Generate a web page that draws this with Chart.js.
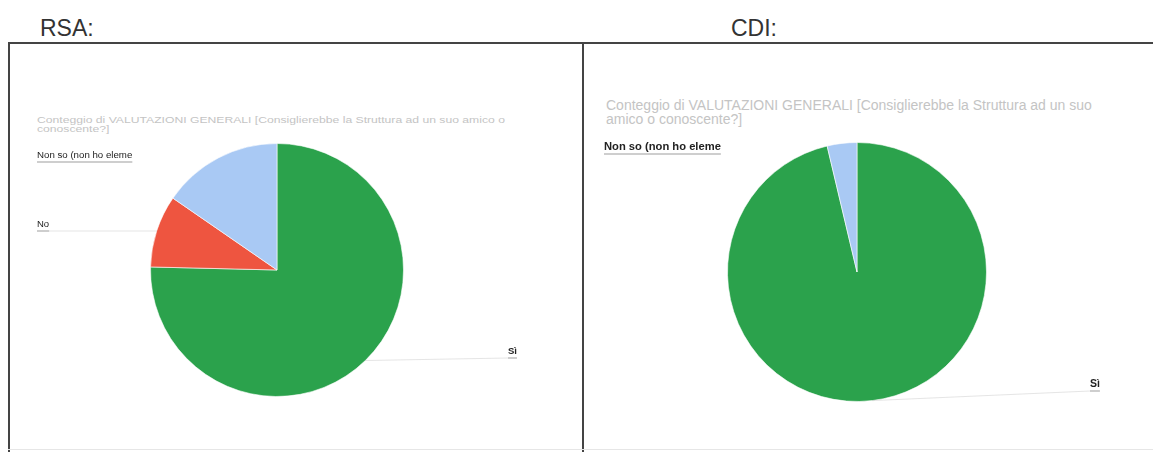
<!DOCTYPE html>
<html>
<head>
<meta charset="utf-8">
<script src="https://cdn.jsdelivr.net/npm/chart.js@4.4.0/dist/chart.umd.min.js"></script>
<style>
  body { margin: 0; background: #fff; font-family: "Liberation Sans", Arial, sans-serif; }
  #page { position: relative; width: 1153px; height: 452px; overflow: hidden; }
  .head { position: absolute; top: 15px; font-size: 23px; color: #333; }
  .title { position: absolute; color: #c4c4c4; white-space: nowrap; transform-origin: left top; }
  .panel { position: absolute; top: 44px; height: 404px; }
  .line { position: absolute; background: #444; }
</style>
</head>
<body>
<div id="page">
  <div class="head" style="left:40px">RSA:</div>
  <div class="head" style="left:731px">CDI:</div>
  <div class="line" style="left:8px; top:42px; width:1145px; height:2px"></div>
  <div class="line" style="left:8px; top:42px; width:2px; height:410px"></div>
  <div class="line" style="left:582px; top:42px; width:2px; height:410px"></div>
  <div class="line" style="left:8px; top:449px; width:1145px; height:1px; background:#e6e6e6"></div>

  <div class="title" style="left:37px; top:115px; font-size:9.5px; line-height:9px; transform:scaleX(1.28)">Conteggio di VALUTAZIONI GENERALI [Consiglierebbe la Struttura ad un suo amico o<br>conoscente?]</div>
  <div class="title" style="left:606px; top:98px; font-size:14px; line-height:14px">Conteggio di VALUTAZIONI GENERALI [Consiglierebbe la Struttura ad un suo<br>amico o conoscente?]</div>

  <div class="panel" style="left:10px; width:572px"><canvas id="rsaChart"></canvas></div>
  <div class="panel" style="left:584px; width:569px"><canvas id="cdiChart"></canvas></div>
</div>

<script>
const rsaLabels = ['Sì', 'No', 'Non so (non ho elementi per giudicare)'];
const rsaValues = [49, 6, 10];
const rsaColors = ['#2ba24c', '#ee5540', '#a9c9f4'];

const cdiLabels = ['Sì', 'Non so (non ho elementi per giudicare)'];
const cdiValues = [26, 1];
const cdiColors = ['#2ba24c', '#a9c9f4'];

// google-sheets style side labels with leader lines to the slice middle
const sideLabels = {
    id: 'sideLabels',
    afterDatasetsDraw(chart, args, opts) {
        const ctx = chart.ctx;
        const arcs = chart.getDatasetMeta(0).data;
        ctx.save();
        arcs.forEach((arc, i) => {
            const pos = opts.positions[i];
            if (!pos) return;
            const mid = (arc.startAngle + arc.endAngle) / 2;
            const px = arc.x + Math.cos(mid) * arc.outerRadius;
            const py = arc.y + Math.sin(mid) * arc.outerRadius;
            let text = chart.data.labels[i];
            if (text.length > pos.max) text = text.slice(0, pos.max);
            ctx.font = (pos.bold ? 'bold ' : '') + pos.size + 'px "Liberation Sans", Arial, sans-serif';
            ctx.fillStyle = '#222';
            ctx.textBaseline = 'alphabetic';
            ctx.fillText(text, pos.x, pos.y);
            const w = ctx.measureText(text).width;
            const ly = pos.y + 4;
            ctx.strokeStyle = 'rgba(60,60,60,0.5)';
            ctx.lineWidth = 1;
            ctx.beginPath();
            ctx.moveTo(pos.x, ly);
            ctx.lineTo(pos.x + w, ly);
            ctx.stroke();
            if (!pos.leader) return;
            ctx.strokeStyle = 'rgba(150,150,150,0.25)';
            ctx.beginPath();
            if (pos.x < px) {
                ctx.moveTo(pos.x + w, ly);
                ctx.lineTo(px, ly);
            } else {
                ctx.moveTo(pos.x, ly);
                ctx.lineTo(px, py);
            }
            ctx.stroke();
        });
        ctx.restore();
    }
};

function makePie(id, labels, values, colors, padding, positions) {
    const ctx = document.getElementById(id).getContext('2d');
    return new Chart(ctx, {
        type: 'pie',
        data: {
            labels: labels,
            datasets: [{
                data: values,
                backgroundColor: colors,
                borderColor: 'rgba(255,255,255,0.6)',
                borderWidth: 1,
                hoverOffset: 0,
                offset: 0
            }]
        },
        options: {
            responsive: true,
            maintainAspectRatio: false,
            animation: false,
            layout: { padding: padding },
            plugins: {
                legend: { display: false },
                tooltip: { enabled: false },
                sideLabels: { positions: positions }
            }
        },
        plugins: [sideLabels]
    });
}

makePie('rsaChart', rsaLabels, rsaValues, rsaColors,
    { left: 140, right: 178, top: 99, bottom: 51 },
    [
        { x: 498, y: 310, size: 9.5, max: 2, bold: true, leader: true },
        { x: 27, y: 183, size: 9.5, max: 20, leader: true },
        { x: 27, y: 114, size: 9.7, max: 20, leader: false }
    ]);

makePie('cdiChart', cdiLabels, cdiValues, cdiColors,
    { left: 143, right: 166, top: 98, bottom: 46 },
    [
        { x: 506, y: 343, size: 10.5, max: 2, bold: true, leader: true },
        { x: 20, y: 106, size: 11.2, max: 20, bold: true, leader: false }
    ]);
</script>
</body>
</html>
